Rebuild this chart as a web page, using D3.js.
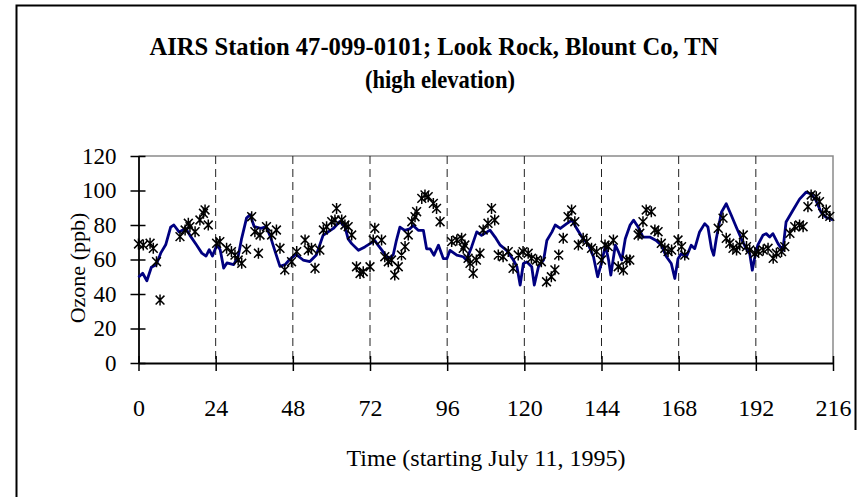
<!DOCTYPE html>
<html>
<head>
<meta charset="utf-8">
<script src="https://cdn.jsdelivr.net/npm/d3@7"></script>
<style>
  html, body { margin: 0; padding: 0; background: #fff; }
  svg { display: block; }
  text { font-family: "Liberation Serif", "Times New Roman", serif; fill: #000; }
</style>
</head>
<body>
<svg id="chart" width="866" height="497"></svg>
<script>
// Modelled hourly ozone (ppb), hours since start
const modelHours = [0,1.3,2.6,4,5.5,7,8.5,10,11,12.6,14.7,16,18,19.7,21,22,23,24.4,25.4,26.5,27.5,29.6,31,32,33.6,34.7,36,38,39.7,41,42.6,44,45.6,47,49,51.2,53.3,55.3,57.4,59,60.6,62.6,64.2,65.2,66.3,68.4,70.4,72,73.5,74.5,76.1,77.6,79.2,80.2,81.3,82.8,84.4,85.4,87,88.6,89.6,90.7,91.9,93.3,94.8,95.9,96.9,99,101,102,103.6,105.2,106.7,109.3,110.9,112.5,114.5,116.6,117.7,118.7,119.7,120.8,122.3,123.1,124.4,126,127,128.6,129.6,131.2,133.2,134.8,136.3,137.9,140,141.5,142.8,144.1,145.2,146.2,146.9,148.3,149.3,150.3,151.4,152.9,154,155.5,156.9,159,161,162.6,164.2,165.7,166.8,167.8,168.8,170.4,171.9,173,174.5,176.1,177.1,178.2,178.9,179.7,181.3,182.8,184.4,185.9,187.5,189,190.1,190.9,191.6,192.6,194.2,195.2,196.3,197.3,198.9,200.4,201.4,203.5,205.6,207.6,209.2,210.7,212.3,213.8,216];
const modelOzone = [49.7,52,47.7,55.5,57,64,68.7,78.8,80,76,78,74,68.5,63.7,62,65.7,62,68.5,65.7,55,58,57,61.8,71.5,84,86,79,78,79,73.4,64,56,57,60,63,59.7,58.8,62.6,74,76,78,82,79,72,69.2,65.3,67.3,69.2,71,68.3,64.4,60.5,62.5,71,78.8,76.9,77.8,79.7,76.9,76.9,66.2,66.2,62.5,68.3,60.5,60.5,65.3,62.5,61.6,59.7,67.3,76,74,77,73,68.3,65.3,59.7,55.8,45.2,57.7,58.6,55.8,45.2,55.8,59.7,71,76,80,78,80.8,82.8,78,73,68.3,61.6,50,58.6,68.3,59.7,51,68.3,64.4,59.7,72,80,82.8,78.5,73,73,71,68.3,61.6,57.7,49,60.5,63.4,61.6,68.3,66.3,76,80.8,78.8,66.3,62.5,72,87.4,92.3,85.5,78.8,72,66.3,63.4,53.8,60.5,68.3,74,75,73,75,69.2,65.3,81.7,88.4,95,99,98,94.2,87.4,84.5,83];

// Observed ozone (ppb) at the monitor
const obsHours = [0,1.5,3.6,4.6,5.6,6.7,12.9,14.5,15.5,16,17.6,19.1,20.2,20.7,21.7,24.3,25.3,27.4,28.9,30,31,32.1,33.6,35.2,36.2,37.3,37.8,39.8,41.4,42.9,44,45.5,47.6,49.2,51.8,52.8,53.8,54.9,56.4,57.5,58.5,60.1,61.1,61.6,63.2,64.2,65.2,66.3,67.8,68.9,69.9,72,73,73.5,75.6,76.6,77.7,78.7,79.7,80.8,81.8,82.9,83.9,85,86,86.5,88.1,89.1,90.1,91.7,92.7,93.8,97.4,99,100.5,101,101.5,102.5,103.1,104.1,105.1,106.2,107.2,108.7,109.8,110.8,111.9,113.4,115,116.5,118.1,119.6,121.2,122.2,123.8,125.3,126.9,128.4,129.5,130.7,132.1,133.6,134.7,135.7,136.8,138.3,139.4,140.9,142.5,144,145.1,146.1,147.7,149.2,150.8,151.8,152.8,155.4,155.9,156.9,157.9,159.5,160.6,161.6,162.6,163.7,164.7,165.8,167.8,168.9,169.9,180.3,181.8,182.8,183.9,184.9,186,187,188.1,189.1,190.1,191.7,192.8,194.3,195.8,197.4,198.4,200,201,202.6,204.1,205.6,206.7,208.2,209.2,210.8,211.8,212.8,213.9,215];
const obsOzone = [69,68.4,69.4,66.5,58.7,36.5,73.3,77.1,81,79,76.1,82.9,86.8,88.7,80,69.4,70.4,66.5,64.6,62.6,59.7,57.8,65.9,84.8,76.1,63.6,74.2,79,74.2,77.1,66.5,54,58.7,64.6,71.3,65.5,66.5,54.9,65.5,77.1,79,81.9,82.9,89.6,82.9,80,79,74.2,55.8,51.9,52.9,55.8,71.3,78.1,71.3,61.6,58.7,59.7,51,55.8,62.6,67.5,74.2,81.9,84.8,87.7,95.4,97.4,96.4,92.5,89.6,81.9,70.4,71.3,72.3,66.5,68.4,60.7,57.8,52,59.7,63.6,77.1,81,89.6,82.9,62.6,61.6,64.6,54.9,62.6,64.6,63.6,60.7,59.7,58.7,47.1,50,54,62.6,72.3,84.8,88.7,81.9,68.4,72.3,70.4,66.5,64.6,59.7,68.4,67.5,71.3,55.8,53.9,59.7,59.7,74.2,75.2,81.9,88.7,87.7,77.1,76.1,69.4,66.5,64.6,65.5,71.3,67.5,62.6,78.1,84,72.3,69.4,66.5,65.5,68.4,74.2,67.5,65.5,63.6,64.6,65.5,66.5,60.7,63.6,64.6,67.5,75.2,79,80,79,90.6,97.4,96.4,93.5,86.7,88.7,85];

const xTicks = [0,24,48,72,96,120,144,168,192,216];
const yTicks = [0,20,40,60,80,100,120];
const titleLines = ["AIRS Station 47-099-0101; Look Rock, Blount Co, TN", "(high elevation)"];
const xTitle = "Time (starting July 11, 1995)";
const yTitle = "Ozone (ppb)";

const svg = d3.select("#chart");
const plot = { left: 138.5, right: 833, top: 156, bottom: 363 };

const x = d3.scaleLinear().domain([0, 216]).range([plot.left, plot.right]);
const y = d3.scaleLinear().domain([0, 120]).range([plot.bottom, plot.top]);

// Outer chart frame
svg.append("path")
  .attr("d", "M16.5,497 V5.5 H855.5 V430")
  .attr("fill", "none").attr("stroke", "#000").attr("stroke-width", 2);

// Plot-area border (top and right)
svg.append("path")
  .attr("d", `M${plot.left},${plot.top} H${plot.right} V${plot.bottom}`)
  .attr("fill", "none").attr("stroke", "#8a8a8a").attr("stroke-width", 1.5);

// Day separators
svg.append("g").selectAll("line")
  .data(xTicks.filter(d => d > 0 && d < 216))
  .join("line")
  .attr("x1", d => x(d)).attr("x2", d => x(d))
  .attr("y1", plot.top).attr("y2", plot.bottom)
  .attr("stroke", "#222").attr("stroke-width", 1)
  .attr("stroke-dasharray", "8,5");

// Axes with crossing ticks
const xAxis = svg.append("g")
  .attr("transform", `translate(0,${plot.bottom})`)
  .call(d3.axisBottom(x).tickValues(xTicks).tickSize(8).tickSizeOuter(0).tickPadding(28));
xAxis.select(".domain").attr("stroke", "#000").attr("stroke-width", 1.8);
xAxis.selectAll(".tick line").attr("y1", -7).attr("stroke", "#000").attr("stroke-width", 1.5);
xAxis.selectAll(".tick text")
  .style("font-family", '"Liberation Serif", serif').style("font-size", "24px").attr("fill", "#000");

const yAxis = svg.append("g")
  .attr("transform", `translate(${plot.left},0)`)
  .call(d3.axisLeft(y).tickValues(yTicks).tickSize(8).tickSizeOuter(0).tickPadding(14));
yAxis.select(".domain").attr("stroke", "#000").attr("stroke-width", 1.8);
yAxis.selectAll(".tick line").attr("x1", 7).attr("stroke", "#000").attr("stroke-width", 1.5);
yAxis.selectAll(".tick text")
  .style("font-family", '"Liberation Serif", serif').style("font-size", "23px").attr("fill", "#000");

// Modelled series
const modelData = modelHours.map((h, i) => [h, modelOzone[i]]);
svg.append("path")
  .datum(modelData)
  .attr("d", d3.line().x(d => x(d[0])).y(d => y(d[1])))
  .attr("fill", "none").attr("stroke", "#000080").attr("stroke-width", 2.8)
  .attr("stroke-linejoin", "round");

// Observed series as asterisks
const s = 5.5;
const star = `M0,${-s}V${s}M${-s*0.8},${-s*0.8}L${s*0.8},${s*0.8}M${-s*0.8},${s*0.8}L${s*0.8},${-s*0.8}`;
svg.append("g").selectAll("path")
  .data(obsHours.map((h, i) => [h, obsOzone[i]]))
  .join("path")
  .attr("transform", d => `translate(${x(d[0])},${y(d[1])})`)
  .attr("d", star)
  .attr("fill", "none").attr("stroke", "#000").attr("stroke-width", 1.5);

// Titles
svg.append("text").attr("x", 434).attr("y", 55).attr("text-anchor", "middle")
  .attr("textLength", 569).attr("lengthAdjust", "spacingAndGlyphs")
  .style("font-size", "26px").style("font-weight", "bold").text(titleLines[0]);
svg.append("text").attr("x", 440).attr("y", 88).attr("text-anchor", "middle")
  .attr("textLength", 150).attr("lengthAdjust", "spacingAndGlyphs")
  .style("font-size", "25px").style("font-weight", "bold").text(titleLines[1]);

svg.append("text").attr("x", 486).attr("y", 466).attr("text-anchor", "middle")
  .style("font-size", "24px").text(xTitle);

svg.append("text").attr("transform", "translate(85,268) rotate(-90)").attr("text-anchor", "middle")
  .style("font-size", "22px").text(yTitle);
</script>
</body>
</html>
